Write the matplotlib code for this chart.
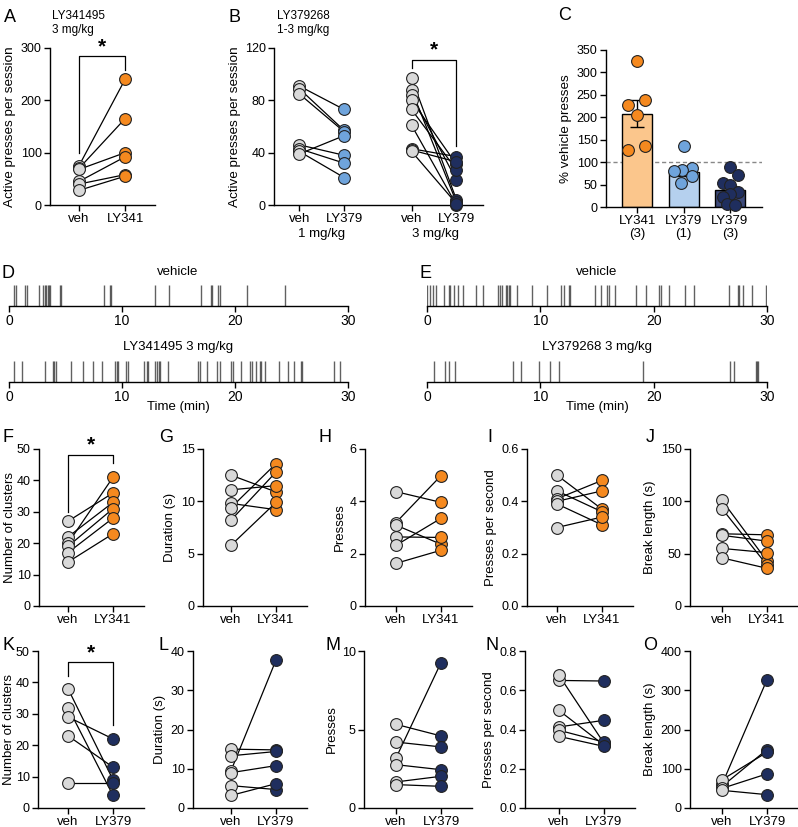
import matplotlib
matplotlib.use("Agg")
import matplotlib.pyplot as plt

plt.rcParams["font.family"] = ["Liberation Sans", "DejaVu Sans"]
plt.rcParams["font.size"] = 9

W, H = 798, 827

GRAY = "#d9d9d9"
ORANGE = "#f5891f"
LBLUE = "#6fa4dc"
NAVY = "#1f2e5e"

# --- Daten ---
a_veh = [75, 70, 68, 45, 40, 28]
a_drug = [240, 165, 100, 92, 58, 55]

b1_veh = [91, 89, 85, 46, 43, 41, 39]
b1_drug = [73, 57, 56, 38, 32, 21, 53]
b3_veh = [97, 88, 84, 80, 73, 61, 43, 42, 41]
b3_drug = [4, 2, 19, 31, 27, 0, 37, 33, 1]

c_labels = ["LY341\n(3)", "LY379\n(1)", "LY379\n(3)"]
c_means = [208, 78, 38]
c_sems = [30, 10, 9]
c_points = [
    [325, 238, 227, 205, 135, 128],
    [135, 86, 83, 80, 70, 53],
    [89, 71, 54, 48, 34, 30, 22, 7, 4],
]

d_vehicle = [0.41, 0.62, 1.44, 1.56, 2.62, 3.0, 3.15, 3.3, 3.44, 3.56, 3.65, 4.47,
             4.62, 8.45, 8.95, 9.07, 12.92, 14.19, 16.96, 17.84, 17.96, 18.52,
             18.66, 21.02, 24.46]
d_drug = [0.47, 1.18, 3.21, 3.86, 4.0, 4.12, 5.48, 6.54, 7.42, 8.27, 9.39, 9.54,
          9.69, 10.36, 10.51, 11.95, 12.19, 12.33, 12.95, 13.07, 13.25, 13.39,
          14.04, 16.75, 16.9, 17.49, 18.37, 18.66, 19.63, 19.78, 20.49, 21.37,
          21.52, 21.9, 22.2, 22.34, 22.64, 23.9, 24.73, 25.23, 25.82, 25.96,
          28.76, 29.26]
e_vehicle = [0.0, 0.24, 0.5, 0.82, 1.53, 1.91, 2.06, 2.35, 2.71, 3.18, 4.35, 4.94,
             6.24, 6.47, 6.62, 6.94, 7.06, 7.21, 7.35, 7.94, 9.26, 10.59, 11.85,
             12.06, 12.5, 12.65, 14.79, 15.38, 15.88, 16.03, 16.62, 18.41, 19.35,
             20.5, 20.68, 21.38, 22.74, 23.53, 26.62, 27.41, 27.56, 27.85, 28.68,
             29.94]
e_drug = [0.65, 1.62, 1.97, 2.5, 7.59, 8.29, 9.88, 10.88, 11.62, 19.06, 26.76,
          27.06, 29.03, 29.12, 29.21]

f_veh = [27, 22, 20, 19, 17, 14]
f_drug = [36, 33, 41, 31, 28, 23]
g_veh = [12.5, 11.1, 9.8, 9.4, 8.2, 5.8]
g_drug = [10.9, 11.5, 9.2, 13.6, 12.8, 9.9]
h_veh = [4.37, 3.19, 3.09, 2.64, 2.32, 1.63]
h_drug = [3.96, 4.98, 2.36, 2.62, 3.35, 2.13]
i_veh = [0.50, 0.44, 0.41, 0.40, 0.39, 0.30]
i_drug = [0.37, 0.36, 0.48, 0.44, 0.31, 0.34]
j_veh = [101, 93, 69, 67.5, 55, 46]
j_drug = [43, 39, 68, 62, 51, 36]

k_veh = [38, 32, 29, 23, 8]
k_drug = [9, 4, 22, 13, 8]
l_veh = [15, 13.3, 9.5, 9.0, 5.7, 3.2]
l_drug = [14.8, 14.4, 37.7, 10.8, 4.7, 6.2]
m_veh = [5.33, 4.2, 3.18, 2.76, 1.66, 1.49]
m_drug = [4.59, 3.89, 9.26, 2.44, 2.02, 1.38]
n_veh = [0.65, 0.676, 0.497, 0.413, 0.396, 0.365]
n_drug = [0.647, 0.33, 0.32, 0.447, 0.336, 0.314]
o_veh = [60, 55, 72, 50, 45]
o_drug = [327, 149, 142, 87, 34]

fig = plt.figure(figsize=(W / 100, H / 100), dpi=100)


def add_ax(left, top, right, bottom):
    return fig.add_axes([left / W, 1 - bottom / H, (right - left) / W, (bottom - top) / H])


def style(ax):
    for s in ("top", "right"):
        ax.spines[s].set_visible(False)
    ax.spines["left"].set_linewidth(1)
    ax.spines["bottom"].set_linewidth(1)
    ax.tick_params(direction="out", length=4, width=1, pad=2, labelsize=9)


def paired(ax, veh, drug, color, x0=0, x1=1):
    for v, d in zip(veh, drug):
        ax.plot([x0, x1], [v, d], color="black", lw=0.9, zorder=2, clip_on=False)
    ax.scatter([x0] * len(veh), veh, s=72, color=GRAY, edgecolor="#222222",
               lw=0.8, zorder=3, clip_on=False)
    ax.scatter([x1] * len(drug), drug, s=72, color=color, edgecolor="#222222",
               lw=0.8, zorder=3, clip_on=False)


def bracket(ax, x0, x1, yl, yr, ytop):
    ax.plot([x0, x0, x1, x1], [yl, ytop, ytop, yr], color="black", lw=0.9, clip_on=False)
    ax.text((x0 + x1) / 2, ytop, "*", ha="center", va="bottom", fontsize=15,
            fontweight="bold")


def small_panel(spine, veh_px, top, bottom, veh, drug, color, ymax, step,
                ylabel, drug_label, fmt="{:g}", labelpad=3):
    ax = add_ax(spine, top, veh_px + 76, bottom)
    style(ax)
    paired(ax, veh, drug, color)
    ax.set_xlim(-(veh_px - spine) / 45, 1 + 31 / 45)
    ax.set_ylim(0, ymax)
    ticks = [i * step for i in range(int(round(ymax / step)) + 1)]
    ax.set_yticks(ticks)
    ax.set_yticklabels([fmt.format(t) for t in ticks])
    ax.set_xticks([0, 1])
    ax.set_xticklabels(["veh", drug_label], fontsize=9.5)
    ax.set_ylabel(ylabel, fontsize=9.5, labelpad=labelpad)
    return ax


# --- A ---
ax = add_ax(50, 48, 155, 205)
style(ax)
paired(ax, a_veh, a_drug, ORANGE)
bracket(ax, 0, 1, 99, 258, 284)
ax.set_xlim(-0.63, 1.65)
ax.set_ylim(0, 300)
ax.set_yticks([0, 100, 200, 300])
ax.set_xticks([0, 1])
ax.set_xticklabels(["veh", "LY341"], fontsize=9.5)
ax.set_ylabel("Active presses per session", fontsize=9.7, labelpad=3)

# --- B ---
ax = add_ax(274, 48, 483, 205)
style(ax)
paired(ax, b1_veh, b1_drug, LBLUE, 0, 1)
paired(ax, b3_veh, b3_drug, NAVY, 2.5, 3.5)
bracket(ax, 2.5, 3.5, 105, 45, 111)
ax.set_xlim(-0.56, 4.09)
ax.set_ylim(0, 120)
ax.set_yticks([0, 40, 80, 120])
ax.set_xticks([0, 1, 2.5, 3.5])
ax.set_xticklabels(["veh", "LY379", "veh", "LY379"], fontsize=9.5)
ax.set_ylabel("Active presses per session", fontsize=9.7, labelpad=3)
fig.text(322 / W, 1 - 234 / H, "1 mg/kg", ha="center", va="center", fontsize=9.5)
fig.text(435 / W, 1 - 234 / H, "3 mg/kg", ha="center", va="center", fontsize=9.5)

# --- C ---
ax = add_ax(606, 50, 762, 207)
style(ax)
bar_colors = ["#fbc68c", "#b5d0ee", "#3d4a7a"]
pt_colors = [ORANGE, LBLUE, NAVY]
jitter = [
    [0, 0.165, -0.19, 0, 0.165, -0.19],
    [0, 0.18, -0.04, -0.2, 0.18, -0.06],
    [-0.01, 0.18, -0.16, 0.01, 0.18, 0.0, -0.16, -0.07, 0.1],
]
xs = range(len(c_means))
ax.bar(xs, c_means, width=0.645, color=bar_colors, edgecolor="black", lw=1, zorder=1)
ax.errorbar(xs, c_means, yerr=c_sems, fmt="none", ecolor="black", elinewidth=1,
            capsize=5, capthick=1, zorder=2)
for i, pts in enumerate(c_points):
    ax.scatter([i + j for j in jitter[i]], pts, s=72, color=pt_colors[i],
               edgecolor="#222222", lw=0.8, zorder=3, clip_on=False)
ax.axhline(100, color="#888888", lw=1, ls=(0, (3, 2)), zorder=0.5)
ax.set_xlim(-0.67, 2.69)
ax.set_ylim(0, 350)
ax.set_yticks(range(0, 351, 50))
ax.set_xticks(list(xs))
ax.set_xticklabels(c_labels, fontsize=9.5, linespacing=1.1)
ax.set_ylabel("% vehicle presses", fontsize=9.7, labelpad=3)


# --- D / E Raster ---
def raster(x0, x1, top, bottom, times):
    ax = add_ax(x0, top, x1, bottom)
    ax.vlines(times, 0, 1, color="#3a3a3a", lw=1, alpha=0.8)
    ax.set_xlim(0, 30)
    ax.set_ylim(0, 1)
    for s in ("top", "right", "left"):
        ax.spines[s].set_visible(False)
    ax.spines["bottom"].set_linewidth(1)
    ax.set_yticks([])
    ax.set_xticks([0, 10, 20, 30])
    ax.tick_params(axis="x", direction="out", length=4, width=1, labelsize=10, pad=2)
    return ax


raster(9, 348, 285, 306, d_vehicle)
raster(9, 348, 361, 382, d_drug)
raster(427, 767, 285, 306, e_vehicle)
raster(427, 767, 361, 382, e_drug)
for cx, t1, t2 in [(178, "vehicle", "LY341495 3 mg/kg"), (597, "vehicle", "LY379268 3 mg/kg")]:
    fig.text(cx / W, 1 - 272 / H, t1, ha="center", va="center", fontsize=9.5)
    fig.text(cx / W, 1 - 347 / H, t2, ha="center", va="center", fontsize=9.5)
    fig.text(cx / W, 1 - 407 / H, "Time (min)", ha="center", va="center", fontsize=9.5)

# --- F-J ---
top1, bot1 = 449, 606
ax = small_panel(39, 68, top1, bot1, f_veh, f_drug, ORANGE, 50, 10,
                 "Number of clusters", "LY341", labelpad=0.5)
bracket(ax, 0, 1, 30, 45.5, 48.2)
small_panel(203, 231, top1, bot1, g_veh, g_drug, ORANGE, 15, 5, "Duration (s)", "LY341")
small_panel(365, 396, top1, bot1, h_veh, h_drug, ORANGE, 6, 2, "Presses", "LY341")
small_panel(527, 557, top1, bot1, i_veh, i_drug, ORANGE, 0.6, 0.2,
            "Presses per second", "LY341", "{:.1f}")
small_panel(690, 722, top1, bot1, j_veh, j_drug, ORANGE, 150, 50, "Break length (s)", "LY341")

# --- K-O ---
top2, bot2 = 651, 808
ax = small_panel(38, 68, top2, bot2, k_veh, k_drug, NAVY, 50, 10,
                 "Number of clusters", "LY379", labelpad=0.5)
bracket(ax, 0, 1, 42, 26.4, 46.5)
small_panel(193, 231, top2, bot2, l_veh, l_drug, NAVY, 40, 10, "Duration (s)", "LY379")
small_panel(364, 396, top2, bot2, m_veh, m_drug, NAVY, 10, 5, "Presses", "LY379")
small_panel(525, 559, top2, bot2, n_veh, n_drug, NAVY, 0.8, 0.2,
            "Presses per second", "LY379", "{:.1f}")
small_panel(690, 722, top2, bot2, o_veh, o_drug, NAVY, 400, 100, "Break length (s)", "LY379")

# --- Beschriftungen ---
for letter, x, y in [("A", 10, 18), ("B", 234, 18), ("C", 565, 16), ("D", 8, 273),
                     ("E", 425, 273), ("F", 8, 437), ("G", 166, 437), ("H", 325, 437),
                     ("I", 490, 437), ("J", 650, 437), ("K", 8, 645), ("L", 163, 645),
                     ("M", 333, 645), ("N", 492, 645), ("O", 650, 645)]:
    fig.text(x / W, 1 - y / H, letter, ha="center", va="center", fontsize=13)

fig.text(52 / W, 1 - 16 / H, "LY341495", ha="left", va="center", fontsize=8.5)
fig.text(52 / W, 1 - 30 / H, "3 mg/kg", ha="left", va="center", fontsize=8.5)
fig.text(277 / W, 1 - 16 / H, "LY379268", ha="left", va="center", fontsize=8.5)
fig.text(277 / W, 1 - 30 / H, "1-3 mg/kg", ha="left", va="center", fontsize=8.5)

fig.savefig("out.png", dpi=100)
